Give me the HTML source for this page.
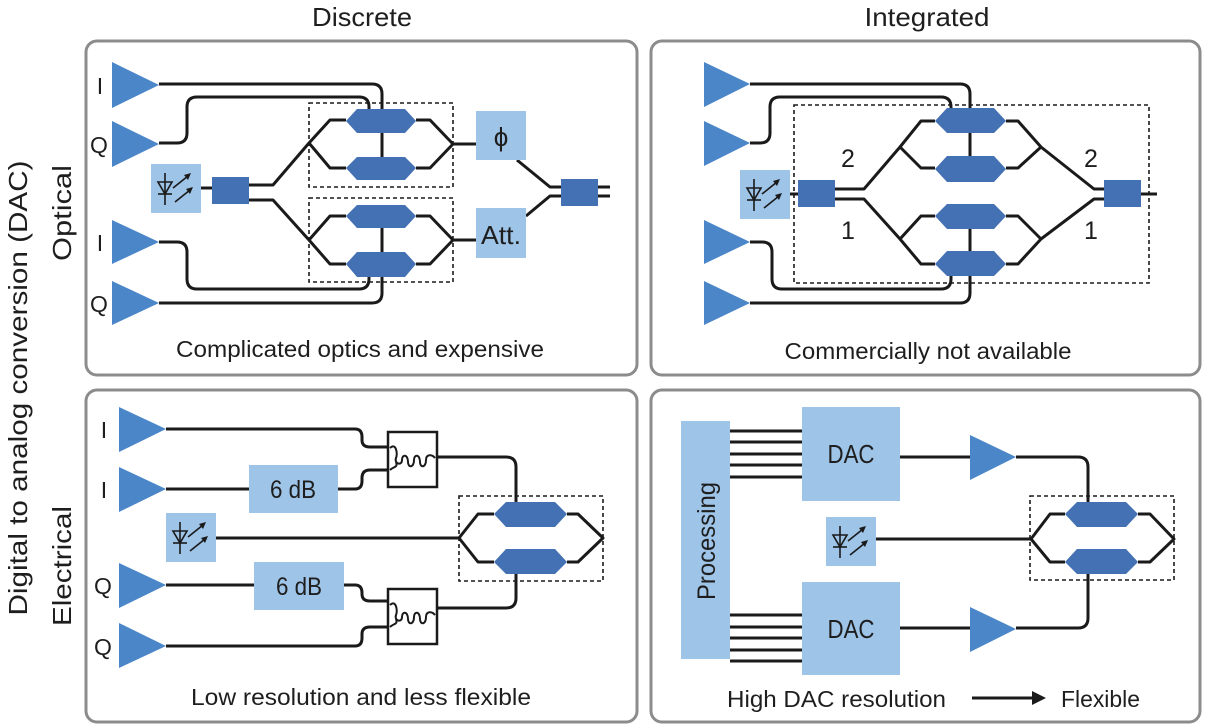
<!DOCTYPE html>
<html><head><meta charset="utf-8"><style>
html,body{margin:0;padding:0;background:#fff;}
svg{display:block;}
text{font-family:"Liberation Sans Narrow","Liberation Sans",sans-serif;fill:#1e1e1e;}
</style></head><body>
<svg width="1205" height="727" viewBox="0 0 1205 727" xmlns="http://www.w3.org/2000/svg">
<defs>
<g id="laser">
  <rect x="0" y="0" width="50" height="49" fill="#9ec4e8"/>
  <line x1="14" y1="9" x2="14" y2="41" stroke="#1a1a1a" stroke-width="1.6"/>
  <polygon points="7,18 21,18 14,30" fill="none" stroke="#1a1a1a" stroke-width="1.6"/>
  <line x1="7" y1="30" x2="21" y2="30" stroke="#1a1a1a" stroke-width="1.6"/>
  <line x1="22" y1="24" x2="37" y2="12" stroke="#1a1a1a" stroke-width="1.6"/>
  <polygon points="40,9 33,11 37,16" fill="#1a1a1a"/>
  <line x1="24" y1="38" x2="39" y2="26" stroke="#1a1a1a" stroke-width="1.6"/>
  <polygon points="42,23 35,25 39,30" fill="#1a1a1a"/>
</g>
<g id="res">
  <rect x="0" y="0" width="49" height="55" fill="#fff" stroke="#1a1a1a" stroke-width="2.5"/>
  <path d="M2,16 C8,10 10,22 8,26 C6,32 14,34 14,28 C14,22 20,22 20,30 C20,36 26,36 26,28 C26,22 32,22 32,30 C32,36 38,36 38,28 C38,22 44,22 47,26" fill="none" stroke="#1a1a1a" stroke-width="2"/>
  <path d="M2,38 C6,34 10,36 8,30" fill="none" stroke="#1a1a1a" stroke-width="2"/>
</g>
</defs>

<!-- titles -->
<text x="362" y="26" font-size="26" text-anchor="middle" textLength="100" lengthAdjust="spacingAndGlyphs">Discrete</text>
<text x="927" y="26" font-size="26" text-anchor="middle" textLength="125" lengthAdjust="spacingAndGlyphs">Integrated</text>
<text transform="translate(27,388) rotate(-90)" font-size="26" text-anchor="middle" textLength="455" lengthAdjust="spacingAndGlyphs">Digital to analog conversion (DAC)</text>
<text transform="translate(71,213) rotate(-90)" font-size="26" text-anchor="middle" textLength="96" lengthAdjust="spacingAndGlyphs">Optical</text>
<text transform="translate(71,566) rotate(-90)" font-size="26" text-anchor="middle" textLength="120" lengthAdjust="spacingAndGlyphs">Electrical</text>

<!-- panels -->
<g fill="#fff" stroke="#8c8c8c" stroke-width="3">
<rect x="86" y="41" width="551" height="334" rx="11"/>
<rect x="651" y="41" width="549" height="334" rx="11"/>
<rect x="86" y="390" width="551" height="332" rx="11"/>
<rect x="651" y="390" width="549" height="332" rx="11"/>
</g>

<!-- ===== TL ===== -->
<g fill="none" stroke="#1a1a1a" stroke-width="1.6" stroke-dasharray="4,3">
<rect x="309" y="103" width="144" height="84"/>
<rect x="309" y="198" width="144" height="84"/>
</g>
<g fill="none" stroke="#1a1a1a" stroke-width="3" stroke-linejoin="round">
<path d="M159,84 H372 Q382,84 382,94 V160"/>
<path d="M159,143 H177 Q187,143 187,133 V107 Q187,97 197,97 H359 Q369,97 369,107 V112"/>
<path d="M159,242 H177 Q187,242 187,252 V279 Q187,289 197,289 H359 Q369,289 369,279 V272"/>
<path d="M159,303 H372 Q382,303 382,293 V208"/>
<path d="M201,188 H212"/>
<path d="M249,185 H273 L309,143 L330,120 H346 M309,143 L330,168 H346 M416,120 H430 L453,144 M416,168 H430 L453,144 H476"/>
<path d="M249,200 H273 L309,240 L330,216 H346 M309,240 L330,264 H346 M416,216 H430 L453,240 M416,264 H430 L453,240 H476"/>
<path d="M517,160 L550,187 H561 M526,216 L550,196 H561 M598,187 H610 M598,196 H610"/>
</g>
<g fill="#4a86c8">
<polygon points="112,62 159,85 112,108"/>
<polygon points="112,121 159,144 112,167"/>
<polygon points="112,220 159,242 112,264"/>
<polygon points="112,281 159,303 112,325"/>
</g>
<g fill="#4470b4">
<polygon points="346,121 357,109 405,109 416,121 405,133 357,133"/>
<polygon points="346,168 357,157 405,157 416,168 405,180 357,180"/>
<polygon points="346,216 357,205 405,205 416,216 405,228 357,228"/>
<polygon points="346,264 357,252 405,252 416,264 405,277 357,277"/>
<rect x="212" y="177" width="37" height="27"/>
<rect x="561" y="179" width="37" height="27"/>
</g>
<use href="#laser" x="151" y="164"/>
<rect x="476" y="111" width="50" height="49" fill="#9ec4e8"/>
<rect x="476" y="208" width="50" height="50" fill="#9ec4e8"/>
<text x="501" y="146" font-size="26" text-anchor="middle">ϕ</text>
<text x="501" y="244" font-size="26" text-anchor="middle" textLength="40" lengthAdjust="spacingAndGlyphs">Att.</text>
<g font-size="23" text-anchor="middle">
<text x="100" y="94">I</text><text x="99" y="153">Q</text>
<text x="100" y="251">I</text><text x="99" y="312">Q</text>
</g>
<text x="360" y="357" font-size="23" text-anchor="middle" textLength="368" lengthAdjust="spacingAndGlyphs">Complicated optics and expensive</text>

<!-- ===== TR ===== -->
<rect x="794" y="105" width="355" height="178" fill="none" stroke="#1a1a1a" stroke-width="1.6" stroke-dasharray="4,3"/>
<g fill="none" stroke="#1a1a1a" stroke-width="3" stroke-linejoin="round">
<path d="M750,84 H960 Q970,84 970,94 V160"/>
<path d="M750,143 H760 Q770,143 770,133 V107 Q770,97 780,97 H941 Q951,97 951,107 V112"/>
<path d="M750,242 H762 Q772,242 772,252 V279 Q772,289 782,289 H941 Q951,289 951,279 V272"/>
<path d="M750,303 H960 Q970,303 970,293 V208"/>
<path d="M790,194 H798"/>
<path d="M835,189 H864 L900,147 L921,121 H935 M900,147 L921,168 H935 M1006,121 H1018 L1041,147 L1094,189 H1104 M1006,168 H1018 L1041,147"/>
<path d="M835,199 H864 L900,239 L921,216 H935 M900,239 L921,264 H935 M1006,216 H1018 L1041,239 L1094,199 H1104 M1006,264 H1018 L1041,239"/>
<path d="M1141,194 H1157"/>
</g>
<g fill="#4a86c8">
<polygon points="704,62 750,84 704,107"/>
<polygon points="704,121 750,143 704,166"/>
<polygon points="704,220 750,242 704,264"/>
<polygon points="704,281 750,303 704,325"/>
</g>
<g fill="#4470b4">
<polygon points="935,121 947,108 994,108 1006,121 994,133 947,133"/>
<polygon points="935,169 947,156 994,156 1006,169 994,182 947,182"/>
<polygon points="935,216 947,204 994,204 1006,216 994,229 947,229"/>
<polygon points="935,264 947,251 994,251 1006,264 994,276 947,276"/>
<rect x="798" y="180" width="37" height="27"/>
<rect x="1104" y="180" width="37" height="27"/>
</g>
<use href="#laser" x="740" y="170"/>
<g font-size="25" text-anchor="middle">
<text x="848" y="167">2</text><text x="848" y="239">1</text>
<text x="1091" y="167">2</text><text x="1091" y="239">1</text>
</g>
<text x="928" y="359" font-size="23" text-anchor="middle" textLength="287" lengthAdjust="spacingAndGlyphs">Commercially not available</text>

<!-- ===== BL ===== -->
<rect x="459" y="496" width="144" height="85" fill="none" stroke="#1a1a1a" stroke-width="1.6" stroke-dasharray="4,3"/>
<g fill="none" stroke="#1a1a1a" stroke-width="3" stroke-linejoin="round">
<path d="M166,429 H355 Q362,429 362,437 V440 Q362,447 370,447 H388"/>
<path d="M166,489 H249 M338,489 H355 Q362,489 362,481 V478 Q362,470 370,470 H388"/>
<path d="M437,457 H506 Q516,457 516,467 V505"/>
<path d="M166,585 H254 M344,585 H355 Q362,585 362,593 V594 Q362,601 370,601 H388"/>
<path d="M166,646 H355 Q362,646 362,638 V634 Q362,627 370,627 H388"/>
<path d="M437,608 H506 Q516,608 516,598 V570"/>
<path d="M215,538 H459 L478,514 H494 M459,538 L478,562 H494 M567,514 H578 L603,538 L578,562 H567"/>
</g>
<g fill="#4a86c8">
<polygon points="119,407 166,429 119,452"/>
<polygon points="119,467 166,489 119,512"/>
<polygon points="119,563 166,585 119,608"/>
<polygon points="119,623 166,646 119,668"/>
</g>
<g fill="#4470b4">
<polygon points="494,514 506,502 555,502 567,514 555,527 506,527"/>
<polygon points="494,562 506,549 555,549 567,562 555,574 506,574"/>
</g>
<use href="#res" x="388" y="432"/>
<use href="#res" x="388" y="589"/>
<use href="#laser" x="166" y="513"/>
<rect x="249" y="465" width="89" height="48" fill="#9ec4e8"/>
<rect x="254" y="562" width="90" height="48" fill="#9ec4e8"/>
<text x="293" y="498" font-size="25" text-anchor="middle" textLength="46" lengthAdjust="spacingAndGlyphs">6 dB</text>
<text x="299" y="595" font-size="25" text-anchor="middle" textLength="46" lengthAdjust="spacingAndGlyphs">6 dB</text>
<g font-size="23" text-anchor="middle">
<text x="104" y="438">I</text><text x="104" y="498">I</text>
<text x="103" y="594">Q</text><text x="103" y="655">Q</text>
</g>
<text x="361" y="705" font-size="23" text-anchor="middle" textLength="340" lengthAdjust="spacingAndGlyphs">Low resolution and less flexible</text>

<!-- ===== BR ===== -->
<rect x="1030" y="496" width="144" height="84" fill="none" stroke="#1a1a1a" stroke-width="1.6" stroke-dasharray="4,3"/>
<g fill="none" stroke="#1a1a1a" stroke-width="3" stroke-linejoin="round">
<path d="M730,431 H802 M730,442 H802 M730,454 H802 M730,465 H802 M730,477 H802"/>
<path d="M730,615 H802 M730,627 H802 M730,638 H802 M730,650 H802 M730,661 H802"/>
<path d="M900,457 H970 M1016,457 H1078 Q1088,457 1088,467 V505"/>
<path d="M900,628 H970 M1016,628 H1078 Q1088,628 1088,618 V570"/>
<path d="M876,539 H1031 L1050,514 H1065 M1031,539 L1050,562 H1065 M1138,514 H1150 L1174,539 L1150,562 H1138"/>
<path d="M972,698 H1036"/>
</g>
<polygon points="1046,698 1032,691 1032,705" fill="#1a1a1a"/>
<rect x="681" y="421" width="49" height="238" fill="#9ec4e8"/>
<rect x="802" y="407" width="98" height="94" fill="#9ec4e8"/>
<rect x="802" y="582" width="98" height="93" fill="#9ec4e8"/>
<g fill="#4a86c8">
<polygon points="970,435 1016,457 970,480"/>
<polygon points="970,607 1016,629 970,652"/>
</g>
<g fill="#4470b4">
<polygon points="1065,514 1077,502 1126,502 1138,514 1126,527 1077,527"/>
<polygon points="1065,562 1077,549 1126,549 1138,562 1126,574 1077,574"/>
</g>
<use href="#laser" x="826" y="517"/>
<text x="851" y="463" font-size="26" text-anchor="middle" textLength="47" lengthAdjust="spacingAndGlyphs">DAC</text>
<text x="851" y="638" font-size="26" text-anchor="middle" textLength="47" lengthAdjust="spacingAndGlyphs">DAC</text>
<text transform="translate(715,541) rotate(-90)" font-size="25" text-anchor="middle" textLength="118" lengthAdjust="spacingAndGlyphs">Processing</text>
<text x="727" y="707" font-size="23" textLength="219" lengthAdjust="spacingAndGlyphs">High DAC resolution</text>
<text x="1061" y="707" font-size="23" textLength="79" lengthAdjust="spacingAndGlyphs">Flexible</text>
</svg>
</body></html>
